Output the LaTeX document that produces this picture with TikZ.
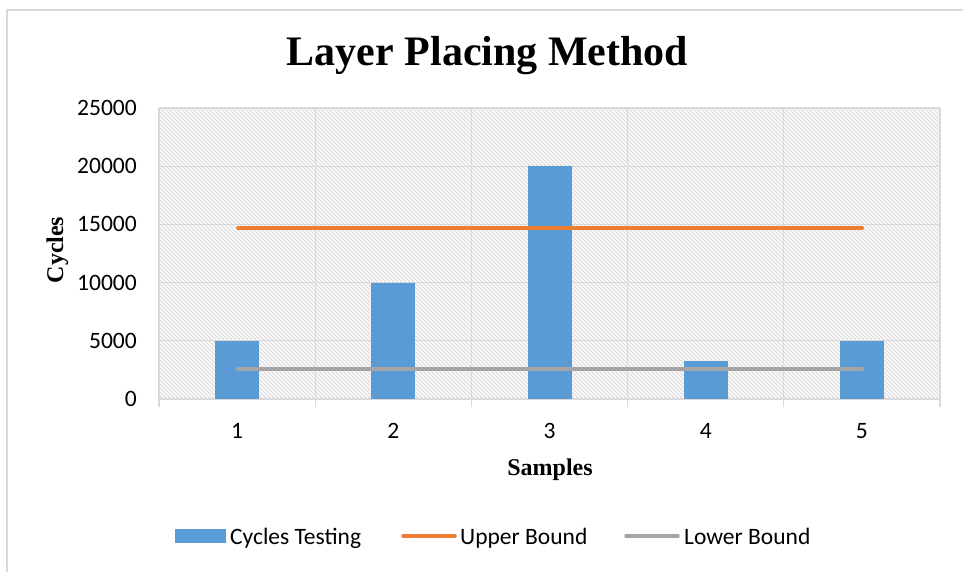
\documentclass[tikz,border=0pt]{standalone}
\usepackage{fontspec}
\setmainfont{Liberation Serif}
\newfontfamily\calib{Carlito}
\definecolor{gridc}{HTML}{D9D9D9}
\definecolor{hatchc}{HTML}{DEDEDE}
\definecolor{barc}{HTML}{5B9BD5}
\definecolor{upc}{HTML}{ED7D31}
\definecolor{lowc}{HTML}{A5A5A5}
\tikzset{
  gridline/.style={draw=gridc, line width=1.3pt},
  bar/.style={fill=barc, draw=none},
  boundline/.style={line width=4pt, line cap=round},
  ticklab/.style={font=\calib\fontsize{23.5}{28}\selectfont, inner sep=0pt},
  axtitle/.style={font=\fontsize{24}{28}\selectfont\bfseries, inner sep=0pt},
  leglab/.style={font=\calib\fontsize{23.5}{28}\selectfont, inner sep=0pt, anchor=base west},
}
\begin{document}
\begin{tikzpicture}[x=1pt, y=-1pt]
\useasboundingbox (0,0) rectangle (963,572);
\fill[white] (0,0) rectangle (963,572);
% outer frame (only left and top visible)
\draw[draw=gridc, line width=1.3pt] (7,572) -- (7,10) -- (963,10);
% title
\node[font=\fontsize{42}{46}\selectfont\bfseries, inner sep=0pt, anchor=base] (title) at (487.5,66) {Layer Placing Method};
% hatched plot area
\begin{scope}
  \clip (159,108) rectangle (940,399);
  \foreach \k in {0,...,280} {
    \draw[hatchc, line width=1.3pt] ({159-291+4*\k},108) -- ++(291,291);
  }
\end{scope}
% horizontal grid lines and y labels (values in thousands)
\foreach \v/\n in {0/0,5/5000,10/10000,15/15000,20/20000,25/25000} {
  \pgfmathsetmacro{\yy}{399-\v*11.64}
  \draw[gridline] (159,\yy) -- (940,\yy);
  \node[ticklab, anchor=east] (ylab\v) at (137,\yy) {\n};
}
% vertical grid lines with ticks
\foreach \i in {0,...,5} {
  \pgfmathsetmacro{\xx}{159+156.2*\i}
  \draw[gridline] (\xx,108) -- (\xx,407);
}
% bars (values in thousands)
\foreach \i/\v in {1/5,2/10,3/20,4/3.3,5/5} {
  \pgfmathsetmacro{\xc}{159+156.2*(\i-0.5)}
  \pgfmathsetmacro{\yy}{399-\v*11.64}
  \fill[bar] ({\xc-22},\yy) rectangle ({\xc+22},399);
  \node[ticklab] (xlab\i) at (\xc,431) {\i};
}
% bound lines
\coordinate (ub1) at (238.1,227.9);
\coordinate (ub5) at (862,227.9);
\coordinate (lb1) at (238.1,369.3);
\coordinate (lb5) at (862,369.3);
\draw[boundline, upc] (ub1) -- (ub5);
\draw[boundline, lowc] (lb1) -- (lb5);
% axis titles
\node[axtitle, anchor=base] (xtitle) at (550,475) {Samples};
\node[axtitle, rotate=90, anchor=base] (ytitle) at (63,250) {Cycles};
% legend
\fill[bar] (175,529) rectangle (226,543);
\node[leglab] (leg1) at (230,544) {Cycles Testing};
\coordinate (lo1) at (403,536);
\coordinate (lo2) at (455,536);
\draw[boundline, upc, line width=3.5pt] (lo1) -- (lo2);
\node[leglab] (leg2) at (460,544) {Upper Bound};
\coordinate (lg1) at (626,536);
\coordinate (lg2) at (678,536);
\draw[boundline, lowc, line width=3.5pt] (lg1) -- (lg2);
\node[leglab] (leg3) at (684,544) {Lower Bound};
\end{tikzpicture}
\end{document}
